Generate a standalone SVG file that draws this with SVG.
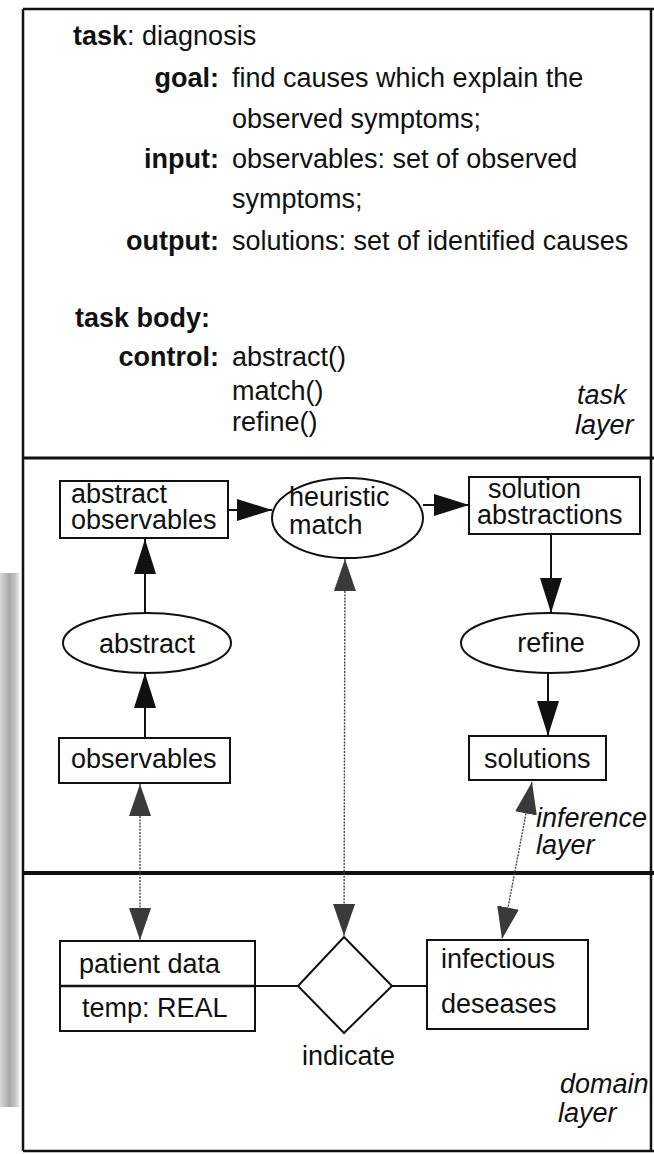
<svg xmlns="http://www.w3.org/2000/svg" width="654" height="1154" viewBox="0 0 654 1154">
<style>
text{font-family:"Liberation Sans",Arial,sans-serif;font-size:27px;fill:#111}
.b{font-weight:bold}
.i{font-style:italic}
.n2{font-size:26px}
.box{fill:#fff;stroke:#111;stroke-width:2}
.frame{fill:none;stroke:#111;stroke-width:2.5}
.sol{stroke:#111;stroke-width:2;fill:none}
.dot{stroke:#444;stroke-width:1.4;stroke-dasharray:2 1.2;fill:none}
</style>
<defs>
<marker id="ah" markerUnits="userSpaceOnUse" markerWidth="36" markerHeight="24" refX="35" refY="11" orient="auto">
<path d="M0,0 L35,11 L0,22 z" fill="#111"/>
</marker>
<marker id="dh" markerUnits="userSpaceOnUse" markerWidth="34" markerHeight="24" refX="32" refY="11" orient="auto-start-reverse">
<path d="M0,0 L32,11 L0,22 z" fill="#3a3a3a"/>
</marker>
<linearGradient id="shadow" x1="0" y1="0" x2="1" y2="0">
<stop offset="0" stop-color="#d8d8d8"/>
<stop offset="0.45" stop-color="#a8a8a8"/>
<stop offset="0.75" stop-color="#c8c8c8"/>
<stop offset="1" stop-color="#ffffff"/>
</linearGradient>
</defs>
<rect width="654" height="1154" fill="#fff"/>
<rect x="0" y="573" width="21" height="534" fill="url(#shadow)"/>
<g id="frame">
<path class="frame" d="M23,9 L654,9 M23,9 L23,1151 M651,9 L651,1151 M23,1151 L654,1151"/>
<line x1="23" y1="458" x2="654" y2="458" stroke="#111" stroke-width="3"/>
<line x1="23" y1="873" x2="654" y2="873" stroke="#111" stroke-width="4"/>
</g>
<g id="task-layer">
<text x="73" y="45"><tspan class="b">task</tspan>: diagnosis</text>
<text x="219" y="87" class="b" text-anchor="end">goal:</text>
<text x="232" y="87">find causes which explain the</text>
<text x="232" y="128">observed symptoms;</text>
<text x="219" y="168" class="b" text-anchor="end">input:</text>
<text x="232" y="168">observables: set of observed</text>
<text x="232" y="208">symptoms;</text>
<text x="219" y="250" class="b" text-anchor="end">output:</text>
<text x="232" y="250">solutions: set of identified causes</text>
<text x="75" y="327" class="b">task body:</text>
<text x="219" y="366" class="b" text-anchor="end">control:</text>
<text x="232" y="366">abstract()</text>
<text x="232" y="400">match()</text>
<text x="232" y="431">refine()</text>
<text x="577" y="404" class="i">task</text>
<text x="575" y="434" class="i">layer</text>
</g>
<g id="connectors">
<line class="sol" x1="228" y1="510" x2="272" y2="510" marker-end="url(#ah)"/>
<line class="sol" x1="423" y1="505" x2="469" y2="505" marker-end="url(#ah)"/>
<line class="sol" x1="551" y1="534" x2="551" y2="613" marker-end="url(#ah)"/>
<line class="sol" x1="548" y1="672" x2="548" y2="736" marker-end="url(#ah)"/>
<line class="sol" x1="145" y1="613" x2="145" y2="539" marker-end="url(#ah)"/>
<line class="sol" x1="145" y1="738" x2="145" y2="673" marker-end="url(#ah)"/>
<line class="dot" x1="140" y1="784" x2="140" y2="940" marker-start="url(#dh)" marker-end="url(#dh)"/>
<line class="dot" x1="345" y1="559" x2="344" y2="936" marker-start="url(#dh)" marker-end="url(#dh)"/>
<line class="dot" x1="532" y1="782" x2="502" y2="939" marker-start="url(#dh)" marker-end="url(#dh)"/>
<line class="sol" x1="255" y1="986" x2="298" y2="986"/>
<line class="sol" x1="392" y1="986" x2="427" y2="986"/>
</g>
<g id="abstract-observables">
<rect class="box" x="60" y="481" width="168" height="57"/>
<text x="71" y="503">abstract</text>
<text x="71" y="529">observables</text>
</g>
<g id="heuristic-match">
<ellipse class="box" cx="347.5" cy="518" rx="75.5" ry="40"/>
<text x="289" y="506">heuristic</text>
<text x="289" y="534">match</text>
</g>
<g id="solution-abstractions">
<rect class="box" x="469" y="477" width="171" height="57"/>
<text x="488" y="498">solution</text>
<text x="477" y="524">abstractions</text>
</g>
<g id="abstract">
<ellipse class="box" cx="147" cy="643" rx="84" ry="30"/>
<text x="147" y="653" text-anchor="middle">abstract</text>
</g>
<g id="refine">
<ellipse class="box" cx="550" cy="643" rx="89" ry="30"/>
<text x="551" y="652" text-anchor="middle">refine</text>
</g>
<g id="observables">
<rect class="box" x="59" y="738" width="171" height="45"/>
<text x="71" y="768">observables</text>
</g>
<g id="solutions">
<rect class="box" x="469" y="736" width="137" height="44"/>
<text x="484" y="768">solutions</text>
</g>
<text x="536" y="827" class="i">inference</text>
<text x="536" y="854" class="i">layer</text>
<g id="patient-data">
<rect class="box" x="60" y="941" width="195" height="90"/>
<line x1="60" y1="986" x2="255" y2="986" stroke="#111" stroke-width="2.5"/>
<text x="79" y="973">patient data</text>
<text x="82" y="1017">temp: REAL</text>
</g>
<g id="indicate">
<path class="box" d="M344,937 L392,986 L344,1033 L298,986 z"/>
<text x="302" y="1065">indicate</text>
</g>
<g id="infectious-deseases">
<rect class="box" x="427" y="940" width="161" height="89"/>
<text x="441" y="968">infectious</text>
<text x="441" y="1013">deseases</text>
</g>
<text x="560" y="1093" class="i">domain</text>
<text x="558" y="1122" class="i">layer</text>
</svg>
